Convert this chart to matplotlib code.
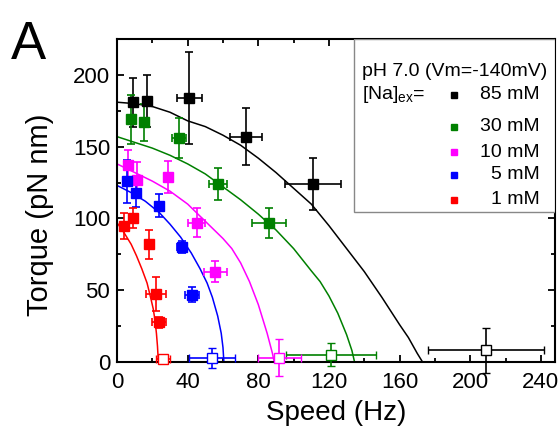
import numpy as np
import matplotlib
matplotlib.use('Agg')
import matplotlib.pyplot as plt
from matplotlib.patches import Rectangle
from matplotlib.ticker import MultipleLocator

plt.rcParams['font.family'] = ['Liberation Sans', 'DejaVu Sans']

# concentrations and colours
labels = ['85 mM', '30 mM', '10 mM', '5 mM', '1 mM']
colors = ['black', '#008000', '#ff00ff', '#0000ff', '#ff0000']

# measured points (last point of each series = open square)
speed = [
    [9, 17, 41, 73, 111, 209],
    [8, 15, 35, 57, 86, 121],
    [6, 11.5, 29, 45, 55.5, 92],
    [5.5, 10.6, 24, 36.6, 42.3, 54],
    [4, 9.2, 18.3, 22, 24, 26],
]
torque = [
    [181, 182, 184, 157, 124, 8],
    [169, 167, 156, 124, 97, 5],
    [137, 127, 129, 97, 63, 3],
    [126, 118, 109, 80, 47, 2.6],
    [95, 100, 82, 47.5, 27.5, 2],
]
speed_err = [
    [0.5, 0.5, 7, 9, 16, 33],
    [0.5, 0.5, 4, 5, 9.5, 25.5],
    [0.5, 0.5, 0.5, 5, 6.5, 12],
    [0.5, 0.5, 0.5, 2.5, 4, 13],
    [0.5, 0.5, 0.5, 5.5, 4, 3.8],
]
torque_err = [
    [17, 18, 32, 20, 18, 16],
    [17, 13, 14, 11, 10.5, 8],
    [11, 12, 11, 10, 7, 13],
    [15, 10, 8, 4, 5, 7],
    [9, 7, 10, 12, 4, 3],
]

# fit curves
fit_speed = [
    [0, 10, 20, 30, 40, 50, 60, 70, 80, 90, 100, 110, 120, 130, 140, 150,
     160, 165, 170, 173],
    [0, 10, 20, 30, 40, 50, 60, 70, 80, 90, 100, 110, 115, 120, 125, 130,
     133, 134.5],
    [0, 10, 20, 30, 40, 50, 60, 65, 70, 75, 80, 85, 88, 89],
    [0, 8, 16, 24, 30, 36, 42, 47, 51, 54, 57, 59, 60, 60.5],
    [0, 4, 8, 11, 14, 17, 19, 20.5, 21.5, 22.3, 22.9, 23.4],
]
fit_torque = [
    [181, 180, 178, 174, 168, 164, 158, 151, 142, 132, 121, 110, 95, 79,
     63, 45, 26, 17, 6, 0],
    [157, 153, 149, 144, 138, 131, 122, 113, 103, 92, 79, 63.5, 56, 46,
     34, 19, 8, 0],
    [138, 132, 126, 119, 110, 98, 86, 79, 69, 56, 40, 20, 6, 0],
    [123, 118, 112, 104, 96, 87, 76, 65, 55, 45, 32, 20, 10, 0],
    [97, 90, 82, 74, 65, 55, 45, 37, 29, 20, 11, 0],
]

fig = plt.figure(figsize=(5.6, 4.34), dpi=100)
ax = fig.add_axes([0.209, 0.166, 0.782, 0.744])

for i in range(len(labels)):
    c = colors[i]
    ax.plot(fit_speed[i], fit_torque[i], color=c, lw=1.1, zorder=2)
    # filled points
    ax.errorbar(speed[i][:-1], torque[i][:-1], xerr=speed_err[i][:-1],
                yerr=torque_err[i][:-1], fmt='s', color=c, ms=7,
                elinewidth=1.2, capsize=3, capthick=1.2, zorder=3)
    # open point at zero load
    ax.errorbar(speed[i][-1:], torque[i][-1:], xerr=speed_err[i][-1:],
                yerr=torque_err[i][-1:], fmt='s', color=c, mfc='white',
                mec=c, ms=7, mew=1.0, elinewidth=1.2, capsize=3,
                capthick=1.2, zorder=3, clip_on=False)

ax.set_xlim(0, 248)
ax.set_ylim(0, 225)
ax.xaxis.set_major_locator(MultipleLocator(40))
ax.xaxis.set_minor_locator(MultipleLocator(20))
ax.yaxis.set_major_locator(MultipleLocator(50))
ax.yaxis.set_minor_locator(MultipleLocator(25))
ax.tick_params(which='both', direction='in', top=True, right=True,
               width=1.3, labelsize=16)
ax.tick_params(axis='x', pad=7)
ax.tick_params(axis='y', pad=5)
ax.tick_params(which='major', length=5)
ax.tick_params(which='minor', length=3)
for s in ax.spines.values():
    s.set_linewidth(1.5)

ax.set_xlabel('Speed (Hz)', fontsize=20, labelpad=5)
ax.set_ylabel('Torque (pN nm)', fontsize=21)
ax.yaxis.set_label_coords(-0.145, 0.455)

# legend box drawn by hand
ax.add_patch(Rectangle((0.541, 0.464), 0.459, 0.536, transform=ax.transAxes,
                       fill=True, facecolor='white', edgecolor='#888888',
                       lw=1.0, zorder=5))
ax.text(0.559, 0.901, 'pH 7.0 (Vm=-140mV)', transform=ax.transAxes,
        fontsize=14, va='center', ha='left', zorder=6)
ax.text(0.559, 0.827, '[Na]$_{\\mathregular{ex}}$=', transform=ax.transAxes,
        fontsize=14, va='center', ha='left', zorder=6)
row_y = [0.827, 0.728, 0.650, 0.579, 0.502]
for i in range(len(labels)):
    ax.plot([0.769], [row_y[i]], 's', color=colors[i], ms=5,
            transform=ax.transAxes, zorder=6, clip_on=False)
    ax.text(0.966, row_y[i], labels[i], transform=ax.transAxes, fontsize=14,
            va='center', ha='right', zorder=6)

fig.text(0.02, 0.955, 'A', fontsize=38, va='top', ha='left')

fig.savefig('out.png', dpi=100)
